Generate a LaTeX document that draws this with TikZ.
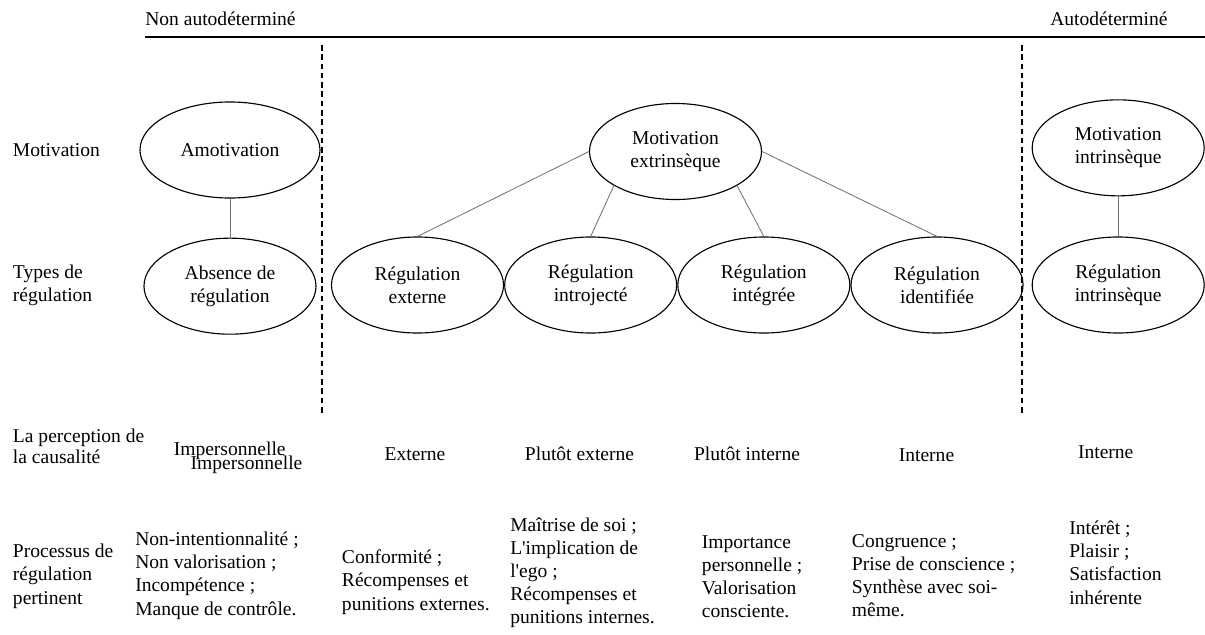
\documentclass[tikz,border=0pt]{standalone}
\usepackage{fontspec}
\setmainfont{Liberation Serif}[Ligatures=TeXOff]
\usetikzlibrary{positioning, shapes.geometric}

\begin{document}
\begin{tikzpicture}[
        x=0.025cm, y=-0.025cm,
        font=\fontsize{13.9}{16.4}\selectfont,
        oval/.style={ellipse, draw, line width=0.8pt, align=center, inner sep=0pt, minimum width=4.3cm, minimum height=2.4cm},
        rowname/.style={anchor=base west, align=left, inner sep=0pt},
        cell/.style={anchor=base west, align=left, inner sep=0pt},
        causal/.style={anchor=base, inner sep=0pt},
        link/.style={draw=black!55, line width=0.6pt},
        divider/.style={line width=1.1pt, dash pattern=on 4pt off 2.6pt}
    ]
    \useasboundingbox (0,0) rectangle (1205,634);

    % header and dividers
    \node[cell] (nonauto) at (145,25) {Non autodéterminé};
    \node[cell] (auto) at (1050,25) {Autodéterminé};
    \coordinate (axisL) at (145,36.7);
    \coordinate (axisR) at (1205,36.7);
    \draw[line width=1.3pt] (axisL) -- (axisR);
    \coordinate (dashAtop) at (322,45);
    \coordinate (dashAbot) at (322,413);
    \coordinate (dashBtop) at (1022,45);
    \coordinate (dashBbot) at (1022,413);
    \draw[divider] (dashAtop) -- (dashAbot);
    \draw[divider] (dashBtop) -- (dashBbot);

    % row names (base = last line)
    \node[rowname, anchor=west] (rmot) at (12.7,150) {Motivation};
    \node[rowname] (rtype) at (12.7,301.7) {Types de\\régulation};
    \node[rowname, font=\fontsize{13.9}{14.7}\selectfont] (rperc) at (12.7,463.3) {La perception de\\la causalité};
    \node[rowname] (rproc) at (12.7,604) {Processus de\\régulation\\pertinent};

    % ellipses
    \node[oval, minimum width=4.5cm] (amo) at (230,150) {Amotivation};
    \node[oval, below=0.975cm of amo] (absence) {Absence de\\régulation};
    \node[oval] (regext) at (417.5,285) {Régulation\\externe};
    \node[oval, right=0pt of regext] (regintro) {Régulation\\introjecté};
    \node[oval, right=0pt of regintro] (reginteg) {Régulation\\intégrée};
    \node[oval, right=0pt of reginteg] (regident) {Régulation\\identifiée};
    \node[oval, right=0.2cm of regident] (regintr) {Régulation\\intrinsèque};
    \node[oval, above=1cm of regintr] (motintr) {Motivation\\intrinsèque};
    \node[oval] (motextr) at (675.5,151.5) {Motivation\\extrinsèque};

    \draw[link] (amo) -- (absence);
    \draw[link] (motextr.west) -- (regext.north);
    \draw[link] (motextr.209) -- (regintro.north);
    \draw[link] (motextr.331) -- (reginteg.north);
    \draw[link] (motextr.east) -- (regident.north);
    \draw[link] (motintr) -- (regintr);

    % causality
    \node[causal] (cimpA) at (229.7,455) {Impersonnelle};
    \node[causal] (cimpB) at (246.5,469.3) {Impersonnelle};
    \node[causal] (cext) at (415,460) {Externe};
    \node[causal] (cpext) at (579.5,460) {Plutôt externe};
    \node[causal] (cpint) at (747,460.5) {Plutôt interne};
    \node[causal] (cint) at (926.5,461.7) {Interne};
    \node[causal] (cintr) at (1105.7,458.3) {Interne};

    % processes (base = last line)
    \node[cell] (pamo) at (135,615) {Non-intentionnalité ;\\Non valorisation ;\\Incompétence ;\\Manque de contrôle.};
    \node[cell] (pext) at (341.7,610) {Conformité ;\\Récompenses et\\punitions externes.};
    \node[cell] (pintro) at (510,623.3) {Maîtrise de soi ;\\L'implication de\\l'ego ;\\Récompenses et\\punitions internes.};
    \node[cell] (pinteg) at (701.7,617.3) {Importance\\personnelle ;\\Valorisation\\consciente.};
    \node[cell] (pident) at (851.7,616.7) {Congruence ;\\Prise de conscience ;\\Synthèse avec soi-\\même.};
    \node[cell] (pintr) at (1069,604) {Intérêt ;\\Plaisir ;\\Satisfaction\\inhérente};
\end{tikzpicture}
\end{document}
